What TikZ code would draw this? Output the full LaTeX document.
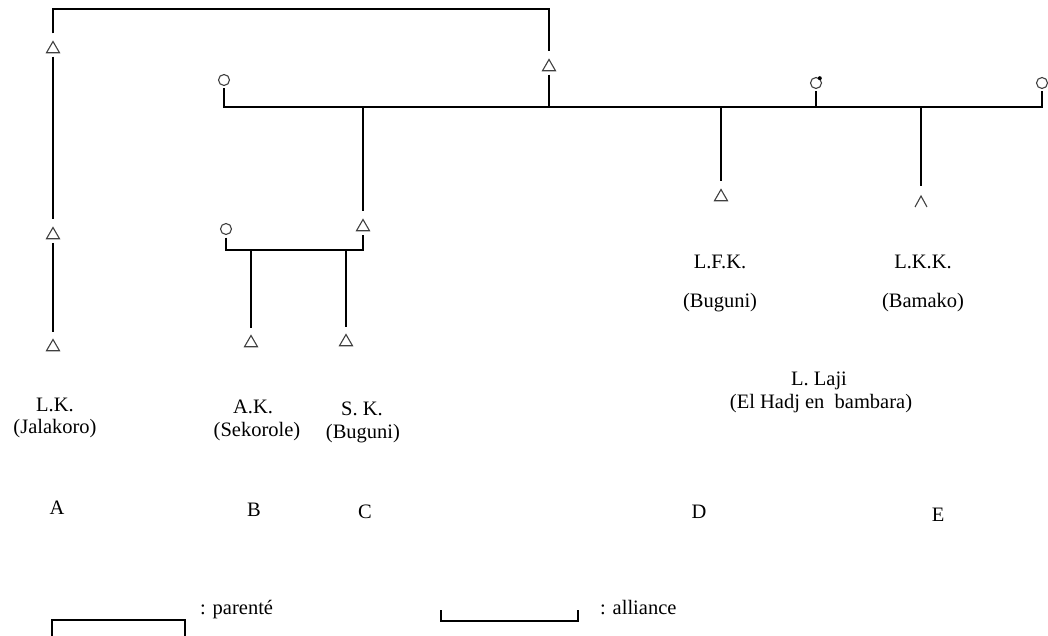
\documentclass[tikz,border=0pt]{standalone}
\usepackage{fontspec}
\setmainfont{Liberation Serif}
\usetikzlibrary{shapes.geometric}
\begin{document}
\begin{tikzpicture}[x=1pt,y=-1pt,
  kin/.style={line width=2.3pt},
  tri/.style={regular polygon, regular polygon sides=3, draw=black!75, line width=1.1pt, minimum size=15pt, inner sep=0pt, outer sep=4pt},
  fem/.style={circle, draw=black!75, line width=1.1pt, minimum size=11pt, inner sep=0pt, outer sep=3pt},
  symline/.style={draw=black!75, line width=1.1pt},
  lbl/.style={font=\fontsize{20.5}{22}\selectfont, inner sep=0pt}]
\useasboundingbox (0,0) rectangle (1048,636);
% persons
\node[tri] (m1) at (53,49) {};
\node[tri] (m2) at (53,235) {};
\node[tri] (m3) at (53,347) {};
\node[tri] (f1) at (549,67) {};
\node[fem] (w1) at (224,80) {};
\node[tri] (ego) at (363,227) {};
\node[fem] (w2) at (226,229) {};
\node[tri] (c1) at (251,343) {};
\node[tri] (c2) at (346,342) {};
\node[fem] (mal) at (816,83) {};
\fill (mal.center) ++(3.8,-4.8) circle (2pt);
\node[tri] (d) at (721,197) {};
\node[tri, draw=none] (e) at (921,202) {};
\draw[symline] ([shift={(-6,5)}]e.center) -- ([shift={(0,-6)}]e.center) -- ([shift={(6,5)}]e.center);
\node[fem] (w3) at (1042,83) {};
% junctions
\coordinate (t1) at (53,9);
\coordinate (t2) at (549,9);
\coordinate (p1) at (224,107);
\coordinate (p5) at (1042,107);
\coordinate (j549) at (549,107);
\coordinate (j363) at (363,107);
\coordinate (j721) at (721,107);
\coordinate (j816) at (816,107);
\coordinate (j921) at (921,107);
\coordinate (s1) at (226,250);
\coordinate (s2) at (363,250);
\coordinate (b1) at (251,250);
\coordinate (b2) at (346,250);
% kinship lines
\draw[kin] (m1) -- (t1) -- (t2) -- (f1);
\draw[kin] (m1) -- (m2);
\draw[kin] (m2) -- (m3);
\draw[kin] (f1) -- (j549);
\draw[kin] (w1) -- (p1) -- (p5) -- (w3);
\draw[kin] (j363) -- (ego);
\draw[kin] (mal) -- (j816);
\draw[kin] (j721) -- (d);
\draw[kin] (j921) -- (e);
\draw[kin] (w2) -- (s1) -- (s2) -- (ego);
\draw[kin] (b1) -- (c1);
\draw[kin] (b2) -- (c2);
% labels
\node[lbl] (lk1) at (55,405) {L.K.};
\node[lbl] (lk2) at (55,429) {(Jalakoro)};
\node[lbl] (ak1) at (253,407) {A.K.};
\node[lbl] (ak2) at (257,432) {(Sekorole)};
\node[lbl] (sk1) at (362,409) {S. K.};
\node[lbl] (sk2) at (363,434) {(Buguni)};
\node[lbl] (lfk1) at (720,262) {L.F.K.};
\node[lbl] (lfk2) at (720,303) {(Buguni)};
\node[lbl] (lkk1) at (923,262) {L.K.K.};
\node[lbl] (lkk2) at (923,303) {(Bamako)};
\node[lbl] (ll1) at (819,381) {L. Laji};
\node[lbl] (ll2) at (821,404) {(El Hadj en\ \ bambara)};
\node[lbl] (gA) at (57,508) {A};
\node[lbl] (gB) at (254,510) {B};
\node[lbl] (gC) at (365,512) {C};
\node[lbl] (gD) at (699,512) {D};
\node[lbl] (gE) at (938,515) {E};
% legend
\coordinate (la) at (52,636);
\coordinate (lb) at (52,620);
\coordinate (lc) at (185,620);
\coordinate (ld) at (185,636);
\draw[kin] (la) -- (lb) -- (lc) -- (ld);
\node[lbl, anchor=west] (lpar) at (200,610) {: parenté};
\coordinate (aa) at (441,610);
\coordinate (ab) at (441,621);
\coordinate (ac) at (578,621);
\coordinate (ad) at (578,610);
\draw[kin] (aa) -- (ab) -- (ac) -- (ad);
\node[lbl, anchor=west] (lall) at (600,608) {: alliance};
\end{tikzpicture}
\end{document}
